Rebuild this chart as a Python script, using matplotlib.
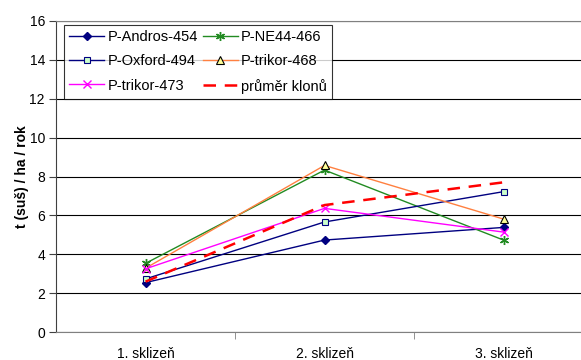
import matplotlib
matplotlib.use("Agg")
import matplotlib.pyplot as plt
from matplotlib.ticker import FixedLocator

plt.rcParams['font.family'] = ['Liberation Sans', 'DejaVu Sans']

categories = ['1. sklizeň', '2. sklizeň', '3. sklizeň']
andros_454 = [2.54, 4.73, 5.38]
oxford_494 = [2.73, 5.66, 7.22]
ne44_466 = [3.53, 8.33, 4.73]
trikor_468 = [3.28, 8.57, 5.81]
trikor_473 = [3.25, 6.36, 5.14]
prumer = [2.59, 6.53, 7.70]

fig = plt.figure(figsize=(5.81, 3.6), dpi=100)
# plot area runs past the right edge of the picture, as in the original
ax = fig.add_axes([56 / 581, 1 - 332 / 360, 537 / 581, 311 / 360])

x = [1, 2, 3]
l_andros, = ax.plot(x, andros_454, color='#000080', lw=1, marker='D', ms=4,
                    mfc='#000080', mec='#000080', label='P-Andros-454')
l_ne44, = ax.plot(x, ne44_466, color='#228b22', lw=1, marker=(6, 2, 0), ms=6.5,
                  mec='#228b22', mew=1, label='P-NE44-466')
l_oxford, = ax.plot(x, oxford_494, color='#000080', lw=1, marker='s', ms=5,
                    mfc='#ccffcc', mec='#000080', mew=0.8, label='P-Oxford-494')
l_t468, = ax.plot(x, trikor_468, color='#ff8040', lw=1, marker='^', ms=5.5,
                  mfc='#ffff99', mec='black', mew=0.8, label='P-trikor-468')
l_t473, = ax.plot(x, trikor_473, color='#ff00ff', lw=1, marker='x', ms=5.5,
                  mec='#ff00ff', mew=1, label='P-trikor-473')
l_mean, = ax.plot(x, prumer, color='#ff0000', lw=1.8, ls=(0, (5, 3.5)),
                  label='průměr klonů')

ax.set_xlim(0.5, 3.5)
ax.set_ylim(0, 16)
ax.set_yticks(range(0, 17, 2))
ax.set_xticks(x)
ax.set_xticklabels(categories)
ax.xaxis.set_minor_locator(FixedLocator([1.5, 2.5]))
ax.tick_params(axis='x', which='major', length=0, pad=11, labelsize=10)
ax.tick_params(axis='x', which='minor', length=5, color='#808080')
ax.tick_params(axis='y', length=5, color='#404040', labelsize=10, pad=3)

ax.yaxis.grid(True, color='black', lw=0.8)
ax.set_axisbelow(True)
for side in ['top', 'bottom']:
    ax.spines[side].set_color('#808080')
ax.spines['left'].set_color('#404040')
ax.spines['right'].set_visible(False)

ax.set_ylabel('t (suš) / ha / rok', fontsize=10, fontweight='bold')
ax.yaxis.set_label_coords(-0.05, 0.5)

# column-wise filling: left column first, then right column
handles = [l_andros, l_oxford, l_t473, l_ne44, l_t468, l_mean]
leg = ax.legend(handles=handles, ncol=2, loc='upper left',
                bbox_to_anchor=(8 / 537, 1 - 4 / 311),
                fontsize=10.5, frameon=True, fancybox=False, borderpad=0.35,
                handlelength=2.4, handletextpad=0.25, columnspacing=0.3,
                labelspacing=0.7, borderaxespad=0)
leg.get_frame().set_edgecolor('black')
leg.get_frame().set_linewidth(0.8)

fig.savefig('out.png', dpi=100)
